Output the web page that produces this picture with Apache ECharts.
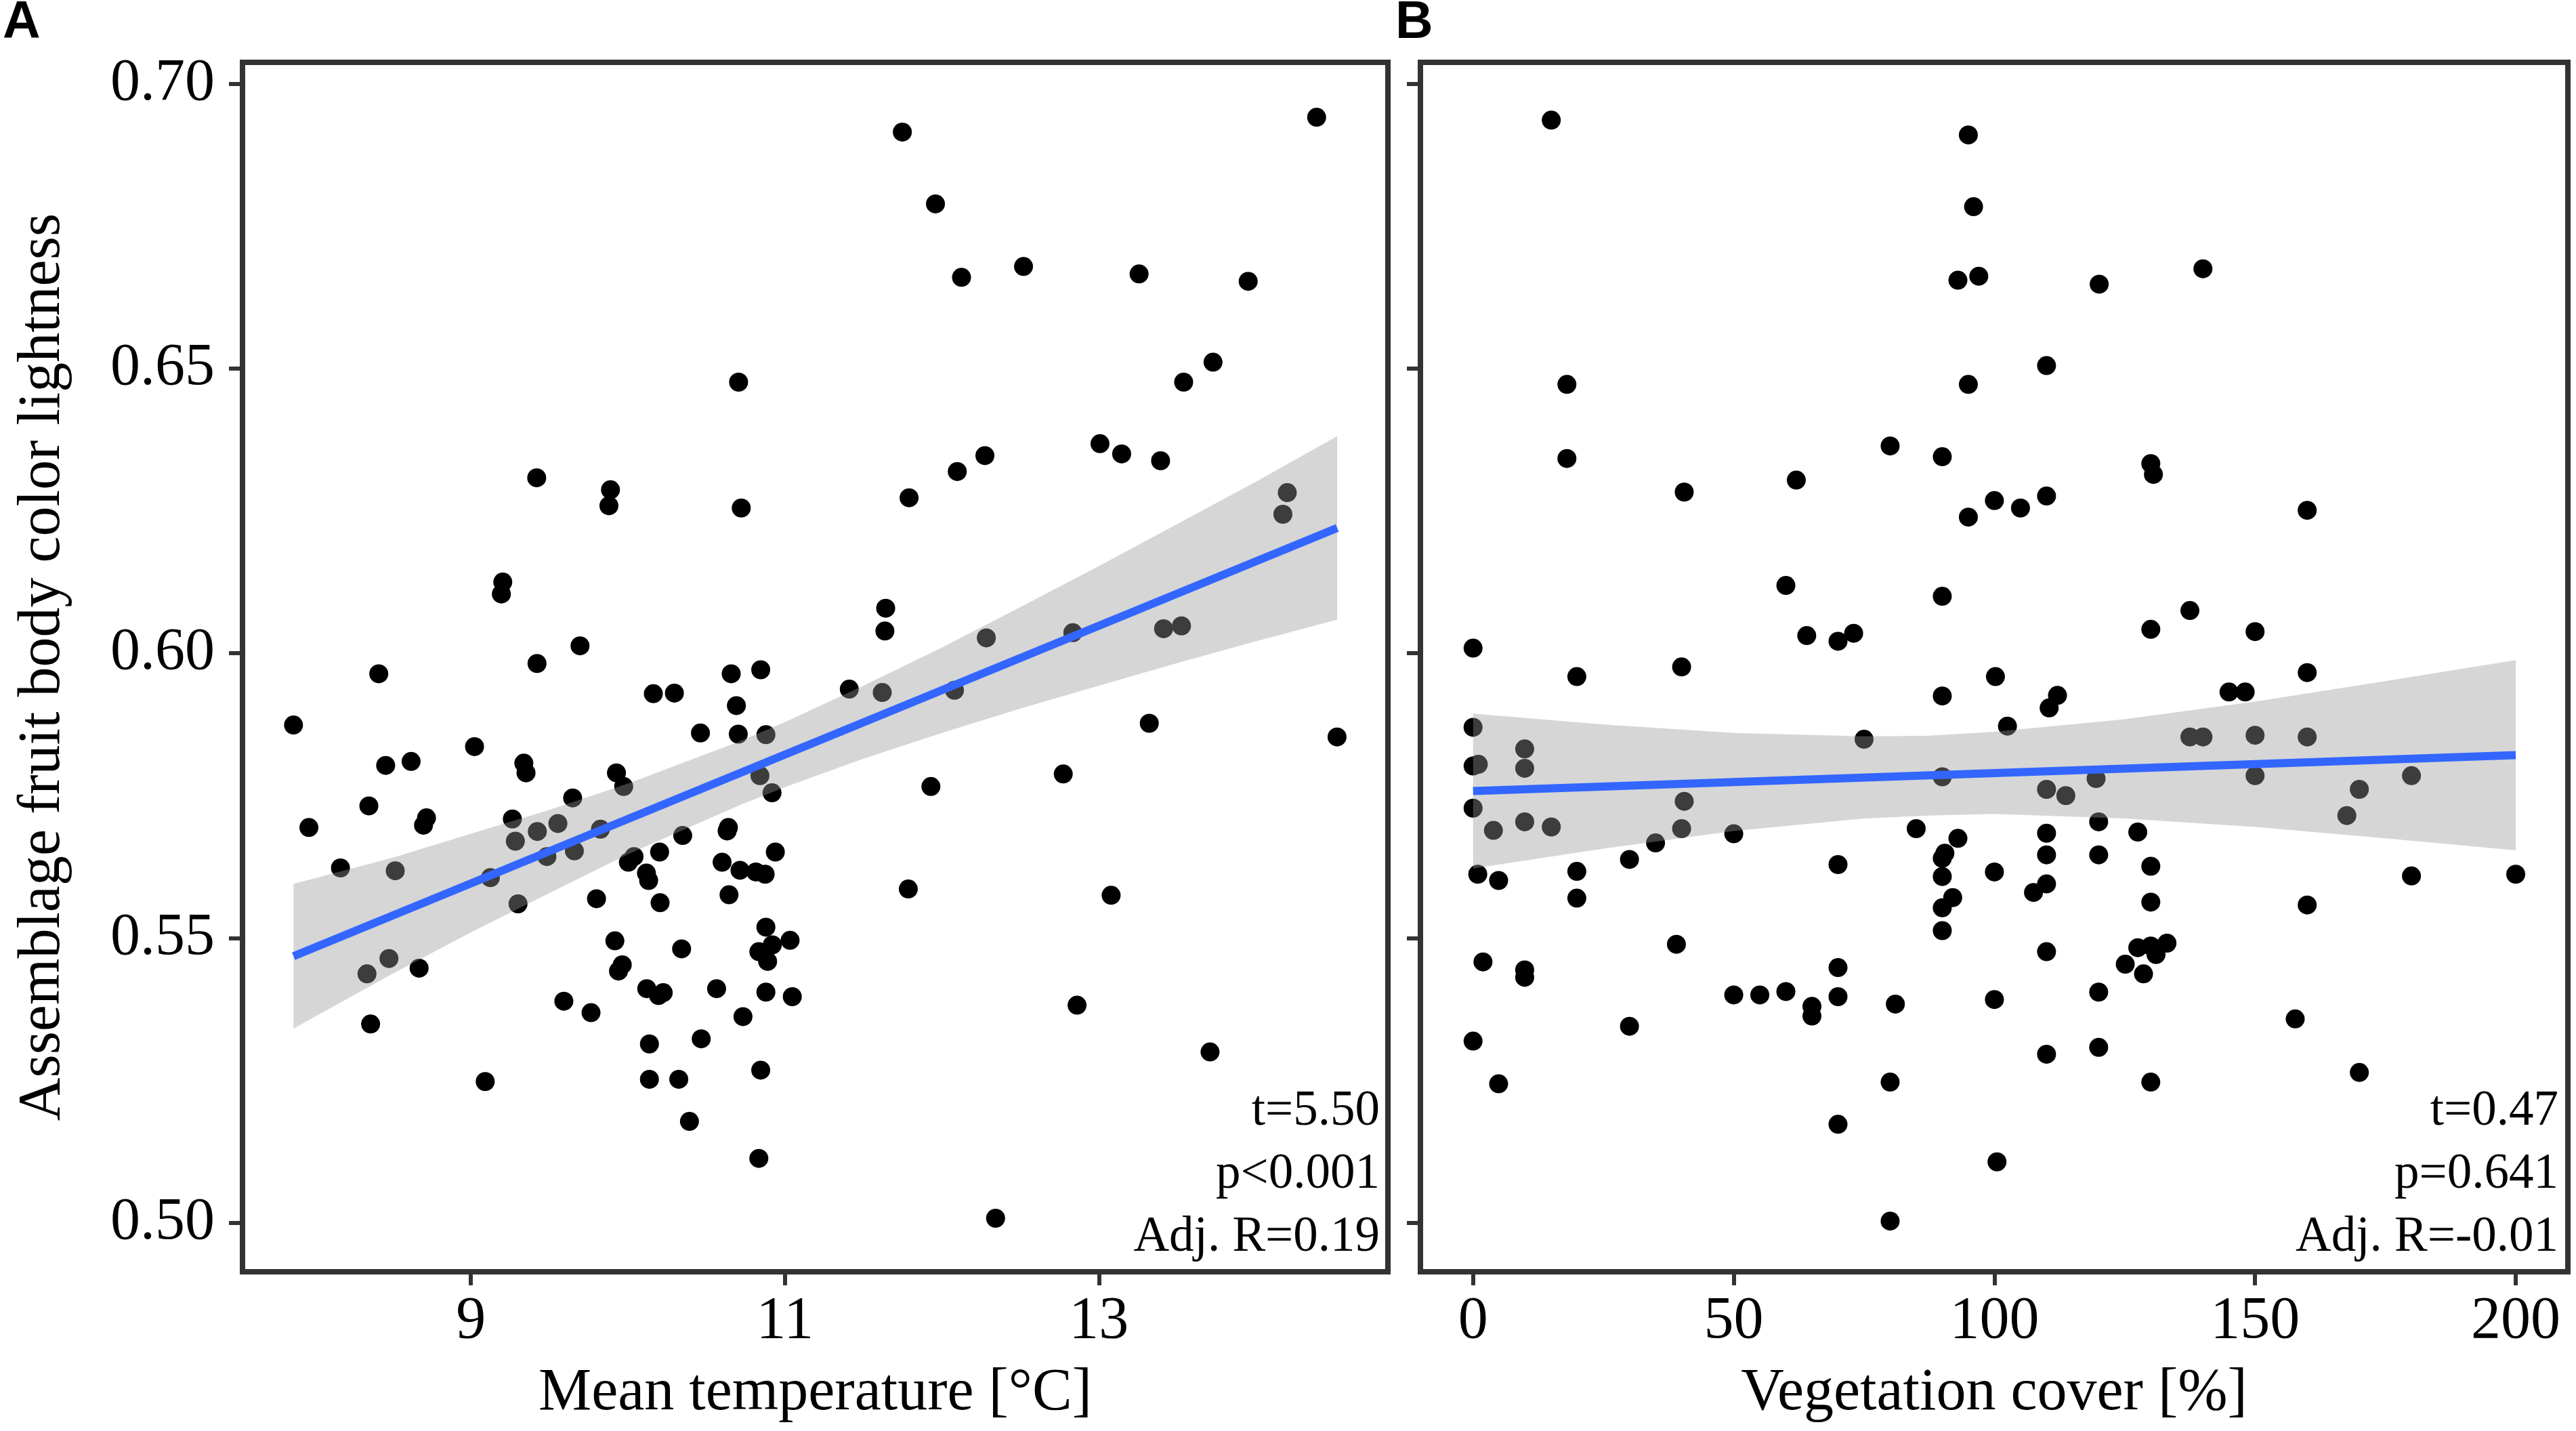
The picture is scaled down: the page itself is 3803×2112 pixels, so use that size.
<!DOCTYPE html>
<html>
<head>
<meta charset="utf-8">
<script src="https://cdn.jsdelivr.net/npm/echarts@6/dist/echarts.min.js"></script>
<style>
  html, body { margin: 0; padding: 0; background: #fff; }
  #chart { width: 3803px; height: 2112px; }
</style>
</head>
<body>
<div id="chart"></div>
<script>
// Panel A: mean temperature vs. lightness
var tempX = [10.705, 9.419, 9.889, 9.879, 10.722, 9.203, 9.194, 9.695, 9.421, 8.413, 10.658, 10.846,
  7.870, 10.162, 10.296, 10.691, 10.462, 10.703, 10.879, 9.023, 8.457, 8.619, 9.337, 9.351, 9.927,
  9.973, 10.841, 10.918, 8.350, 9.648, 7.968, 8.717, 8.698, 9.264, 9.423, 9.554, 9.283, 9.825,
  10.349, 10.640, 10.632, 9.484, 9.659, 10.039, 10.003, 10.202, 10.939, 8.169, 8.518, 9.124,
  10.118, 10.132, 10.600, 10.714, 10.815, 10.874, 9.300, 9.800, 10.205, 10.644, 10.879, 9.917,
  10.342, 11.033, 10.920, 10.834, 10.890, 9.964, 9.940, 8.478, 8.338, 8.670, 10.120, 10.225,
  10.195, 10.565, 10.879, 11.047, 9.592, 9.765, 10.733, 8.361, 10.137, 10.467, 10.846, 9.091,
  10.137, 10.324, 10.392, 10.834, 11.748, 14.387, 11.959, 12.125, 12.520, 13.256, 13.951, 13.727,
  13.540, 11.791, 12.098, 12.274, 13.007, 13.145, 13.393, 14.200, 14.172, 11.642, 11.637, 12.283,
  12.834, 13.412, 13.526, 11.410, 11.620, 12.080, 13.321, 14.517, 11.930, 12.773, 11.786, 13.078,
  12.861, 13.708, 12.342];
var tempY = [0.6476, 0.6308, 0.6287, 0.6259, 0.6255, 0.6125, 0.6104, 0.6013, 0.5982, 0.5964, 0.5964, 0.5971,
  0.5874, 0.5929, 0.5930, 0.5908, 0.5860, 0.5858, 0.5857, 0.5836, 0.5803, 0.5810, 0.5807, 0.5790, 0.5790,
  0.5766, 0.5785, 0.5755, 0.5732, 0.5746, 0.5694, 0.5711, 0.5698, 0.5709, 0.5687, 0.5701, 0.5670, 0.5691,
  0.5680, 0.5694, 0.5688, 0.5643, 0.5653, 0.5643, 0.5633, 0.5651, 0.5651, 0.5623, 0.5618, 0.5606,
  0.5614, 0.5601, 0.5633, 0.5619, 0.5616, 0.5612, 0.5560, 0.5569, 0.5562, 0.5576, 0.5519, 0.5495,
  0.5481, 0.5496, 0.5488, 0.5476, 0.5459, 0.5453, 0.5442, 0.5464, 0.5437, 0.5447, 0.5411, 0.5404,
  0.5399, 0.5411, 0.5405, 0.5397, 0.5389, 0.5369, 0.5362, 0.5349, 0.5314, 0.5323, 0.5268, 0.5248,
  0.5252, 0.5252, 0.5178, 0.5113, 0.6915, 0.6941, 0.6789, 0.6660, 0.6679, 0.6666, 0.6653, 0.6511,
  0.6476, 0.6273, 0.6319, 0.6347, 0.6368, 0.6350, 0.6338, 0.6282, 0.6244, 0.6079, 0.6039, 0.6027,
  0.6036, 0.6043, 0.6048, 0.5937, 0.5931, 0.5935, 0.5877, 0.5853, 0.5766, 0.5788, 0.5586, 0.5575,
  0.5382, 0.5300, 0.5008];
var tempFitX = [7.870, 14.518];
var tempFitY = [0.5468, 0.6220];
var tempBandX = [7.87, 8.5, 9.0, 9.5, 10.0, 10.7, 11.0, 11.5, 12.0, 12.5, 13.0, 13.5, 14.0, 14.518];
var tempBandLo = [0.5341, 0.5437, 0.5510, 0.5579, 0.5647, 0.5732, 0.5765, 0.5815, 0.5860, 0.5903, 0.5943, 0.5983, 0.6021, 0.6059];
var tempBandHi = [0.5595, 0.5641, 0.5683, 0.5725, 0.5771, 0.5844, 0.5879, 0.5943, 0.6010, 0.6081, 0.6153, 0.6227, 0.6301, 0.6381];
var tempTicks = [9, 11, 13];

// Panel B: vegetation cover vs. lightness
var vegX = [15, 95, 96, 93, 97, 18, 95, 18, 80, 90, 40.5, 62, 100, 95, 60, 90, 64, 70, 73, 0,
  19.9, 40, 90, 100.2, 0, 0, 1, 9.9, 9.9, 75, 90, 0, 3.9, 9.9, 15, 40.5, 40, 35, 50, 30,
  0.9, 4.9, 19.9, 19.9, 70, 85, 93, 90.5, 90, 90, 92, 90, 90, 100, 39, 1.9, 9.9, 9.9, 50, 55,
  60, 65, 65, 70, 70, 81, 100, 30, 0, 4.9, 80, 70, 100.5, 80, 120.1, 140, 110, 130, 130.5, 105,
  110, 160, 130, 137.5, 150, 160, 112.1, 110.5, 102.5, 145, 148.1, 137.5, 140, 150, 160, 150, 180, 119.5,
  110, 113.7, 170, 167.6, 110, 110, 120, 120, 127.5, 130, 180, 200, 110, 107.5, 130, 160, 110, 127.5,
  130, 133.1, 131, 125.1, 128.6, 120, 157.7, 110, 120, 170, 130];
var vegY = [0.6936, 0.6910, 0.6784, 0.6655, 0.6662, 0.6472, 0.6472, 0.6342, 0.6364, 0.6345, 0.6283, 0.6304,
  0.6268, 0.6239, 0.6119, 0.6100, 0.6031, 0.6021, 0.6035, 0.6009, 0.5959, 0.5976, 0.5925, 0.5959, 0.5870,
  0.5802, 0.5805, 0.5832, 0.5798, 0.5849, 0.5783, 0.5728, 0.5689, 0.5704, 0.5695, 0.5740, 0.5692, 0.5667,
  0.5683, 0.5638, 0.5612, 0.5601, 0.5617, 0.5570, 0.5629, 0.5692, 0.5675, 0.5649, 0.5640, 0.5608, 0.5571,
  0.5553, 0.5513, 0.5616, 0.5489, 0.5458, 0.5444, 0.5431, 0.5400, 0.5400, 0.5406, 0.5380, 0.5363, 0.5448,
  0.5397, 0.5384, 0.5392, 0.5345, 0.5319, 0.5244, 0.5247, 0.5173, 0.5107, 0.5003, 0.6648, 0.6675, 0.6505,
  0.6333, 0.6314, 0.6255, 0.6276, 0.6251, 0.6042, 0.6075, 0.6038, 0.5966, 0.5926, 0.5904, 0.5872, 0.5932,
  0.5932, 0.5853, 0.5853, 0.5856, 0.5853, 0.5785, 0.5785, 0.5780, 0.5761, 0.5750, 0.5761, 0.5715, 0.5684,
  0.5646, 0.5704, 0.5646, 0.5686, 0.5626, 0.5609, 0.5612, 0.5595, 0.5580, 0.5563, 0.5558, 0.5476, 0.5483,
  0.5486, 0.5491, 0.5471, 0.5454, 0.5437, 0.5405, 0.5358, 0.5296, 0.5308, 0.5264, 0.5247];
var vegFitX = [0, 200];
var vegFitY = [0.5758, 0.5821];
var vegBandX = [0, 25, 50, 75, 87, 100, 125, 150, 175, 200];
var vegBandLo = [0.5622, 0.5657, 0.5688, 0.5710, 0.5715, 0.5718, 0.5710, 0.5695, 0.5675, 0.5654];
var vegBandHi = [0.5894, 0.5875, 0.5860, 0.5854, 0.5855, 0.5862, 0.5884, 0.5915, 0.5951, 0.5988];
var vegTicks = [0, 50, 100, 150, 200];

var yTicks = [0.50, 0.55, 0.60, 0.65, 0.70];
var statsA = ['t=5.50', 'p<0.001', 'Adj. R=0.19'];
var statsB = ['t=0.47', 'p=0.641', 'Adj. R=-0.01'];

var serif = "'Liberation Serif', 'Times New Roman', serif";
var sans = "'Liberation Sans', Arial, sans-serif";

function pairs(xs, ys) {
  return xs.map(function (x, i) { return [x, ys[i]]; });
}

function bandSeries(idx, bx, lo, hi) {
  return {
    type: 'custom', xAxisIndex: idx, yAxisIndex: idx, z: 3, silent: true,
    data: [[bx[0], lo[0]]],
    renderItem: function (params, api) {
      var pts = [];
      for (var i = 0; i < bx.length; i++) pts.push(api.coord([bx[i], hi[i]]));
      for (var j = bx.length - 1; j >= 0; j--) pts.push(api.coord([bx[j], lo[j]]));
      return { type: 'polygon', shape: { points: pts }, style: { fill: 'rgba(153,153,153,0.4)' } };
    }
  };
}

function xAxis(idx, min, max, ticks, title) {
  return {
    type: 'value', gridIndex: idx, min: min, max: max,
    axisLine: { show: false, onZero: false }, splitLine: { show: false },
    axisTick: { show: true, length: 20, lineStyle: { color: '#333', width: 6 }, customValues: ticks },
    axisLabel: { show: true, margin: 30, fontSize: 88, fontFamily: serif, color: '#000', customValues: ticks },
    name: title, nameLocation: 'middle', nameGap: 136,
    nameTextStyle: { fontSize: 88, fontFamily: serif, color: '#000' }
  };
}

function yAxis(idx, showLabels) {
  var ax = {
    type: 'value', gridIndex: idx, min: 0.4914, max: 0.70375,
    axisLine: { show: false, onZero: false }, splitLine: { show: false },
    axisTick: { show: true, length: 20, lineStyle: { color: '#333', width: 6 }, customValues: yTicks },
    axisLabel: {
      show: showLabels, margin: 41, fontSize: 88, fontFamily: serif, color: '#000', customValues: yTicks,
      formatter: function (v) { return v.toFixed(2); }
    }
  };
  if (showLabels) {
    ax.name = 'Assemblage fruit body color lightness';
    ax.nameLocation = 'middle';
    ax.nameRotate = 90;
    ax.nameGap = 250;
    ax.nameTextStyle = { fontSize: 88, fontFamily: serif, color: '#000' };
  }
  return ax;
}

function statText(lines, right) {
  return lines.map(function (t, i) {
    return {
      type: 'text', x: right, y: 1641 + i * 93, silent: true,
      style: { text: t, fill: '#000', font: '73px ' + serif, textAlign: 'right', textVerticalAlign: 'middle' }
    };
  });
}

var dot = { color: '#000', opacity: 1 };

var chart = echarts.init(document.getElementById('chart'));
chart.setOption({
  animation: false,
  backgroundColor: '#fff',
  grid: [
    { left: 358, top: 92, width: 1691, height: 1785, show: true, borderColor: '#333', borderWidth: 8, backgroundColor: 'transparent' },
    { left: 2097, top: 92, width: 1694, height: 1785, show: true, borderColor: '#333', borderWidth: 8, backgroundColor: 'transparent' }
  ],
  xAxis: [
    xAxis(0, 7.545, 14.841, tempTicks, 'Mean temperature [°C]'),
    xAxis(1, -10.1, 210, vegTicks, 'Vegetation cover [%]')
  ],
  yAxis: [yAxis(0, true), yAxis(1, false)],
  series: [
    { type: 'scatter', xAxisIndex: 0, yAxisIndex: 0, z: 2, symbolSize: 28, itemStyle: dot, silent: true, data: pairs(tempX, tempY) },
    bandSeries(0, tempBandX, tempBandLo, tempBandHi),
    { type: 'line', xAxisIndex: 0, yAxisIndex: 0, z: 4, showSymbol: false, silent: true, lineStyle: { color: '#3366FF', width: 12 }, data: pairs(tempFitX, tempFitY) },
    { type: 'scatter', xAxisIndex: 1, yAxisIndex: 1, z: 2, symbolSize: 28, itemStyle: dot, silent: true, data: pairs(vegX, vegY) },
    bandSeries(1, vegBandX, vegBandLo, vegBandHi),
    { type: 'line', xAxisIndex: 1, yAxisIndex: 1, z: 4, showSymbol: false, silent: true, lineStyle: { color: '#3366FF', width: 12 }, data: pairs(vegFitX, vegFitY) }
  ],
  graphic: [
    { type: 'text', x: 4, y: 35, style: { text: 'A', fill: '#000', font: 'bold 77px ' + sans, textVerticalAlign: 'middle' } },
    { type: 'text', x: 2060, y: 35, style: { text: 'B', fill: '#000', font: 'bold 77px ' + sans, textVerticalAlign: 'middle' } }
  ].concat(statText(statsA, 2037), statText(statsB, 3777))
});
</script>
</body>
</html>
